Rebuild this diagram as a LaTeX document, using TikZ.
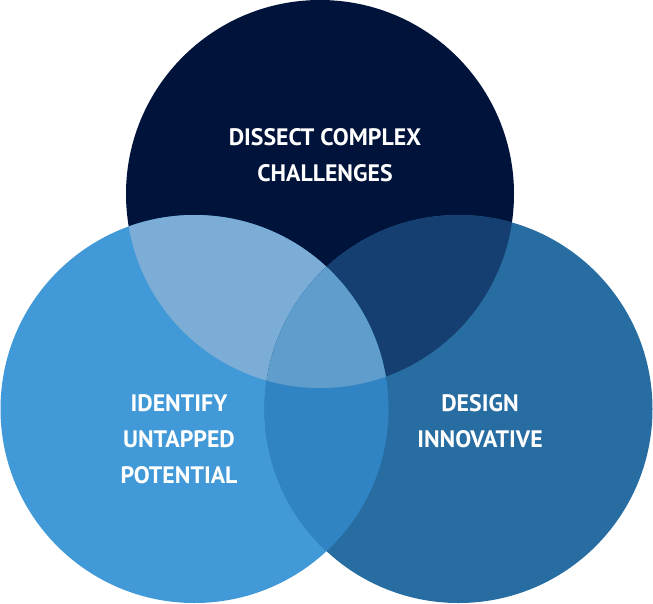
\documentclass[tikz,border=0pt]{standalone}
\usepackage{fontspec}
\setmainfont{PT Sans}
\definecolor{ctop}{HTML}{00133A}
\definecolor{cleft}{HTML}{4299D7}
\definecolor{cright}{HTML}{276DA2}
\definecolor{ctl}{HTML}{7BADD6}
\definecolor{ctr}{HTML}{153F70}
\definecolor{clr}{HTML}{3184C4}
\definecolor{cmid}{HTML}{5F9ECC}
\begin{document}
\begin{tikzpicture}[x=1pt,y=-1pt,
  lbl/.style={text=white,font=\bfseries\fontsize{23.8}{36}\selectfont,align=center,anchor=base,inner sep=0pt}]
\useasboundingbox (0,0) rectangle (653,603);
\def\topc{(320,194) circle[radius=194]}
\def\leftc{(194.5,409) circle[radius=194]}
\def\rightc{(458.5,409) circle[radius=194]}
\fill[ctop] \topc;
\fill[cleft] \leftc;
\fill[cright] \rightc;
\begin{scope}\clip \topc; \fill[ctl] \leftc; \end{scope}
\begin{scope}\clip \topc; \fill[ctr] \rightc; \end{scope}
\begin{scope}\clip \leftc; \fill[clr] \rightc; \end{scope}
\begin{scope}\clip \topc; \clip \leftc; \fill[cmid] \rightc; \end{scope}
\node[lbl] (t1) at (325,181) {DISSECT COMPLEX\\CHALLENGES};
\node[lbl] (t2) at (179,483) {IDENTIFY\\UNTAPPED\\POTENTIAL};
\node[lbl] (t3) at (480,447) {DESIGN\\INNOVATIVE};
\end{tikzpicture}
\end{document}
